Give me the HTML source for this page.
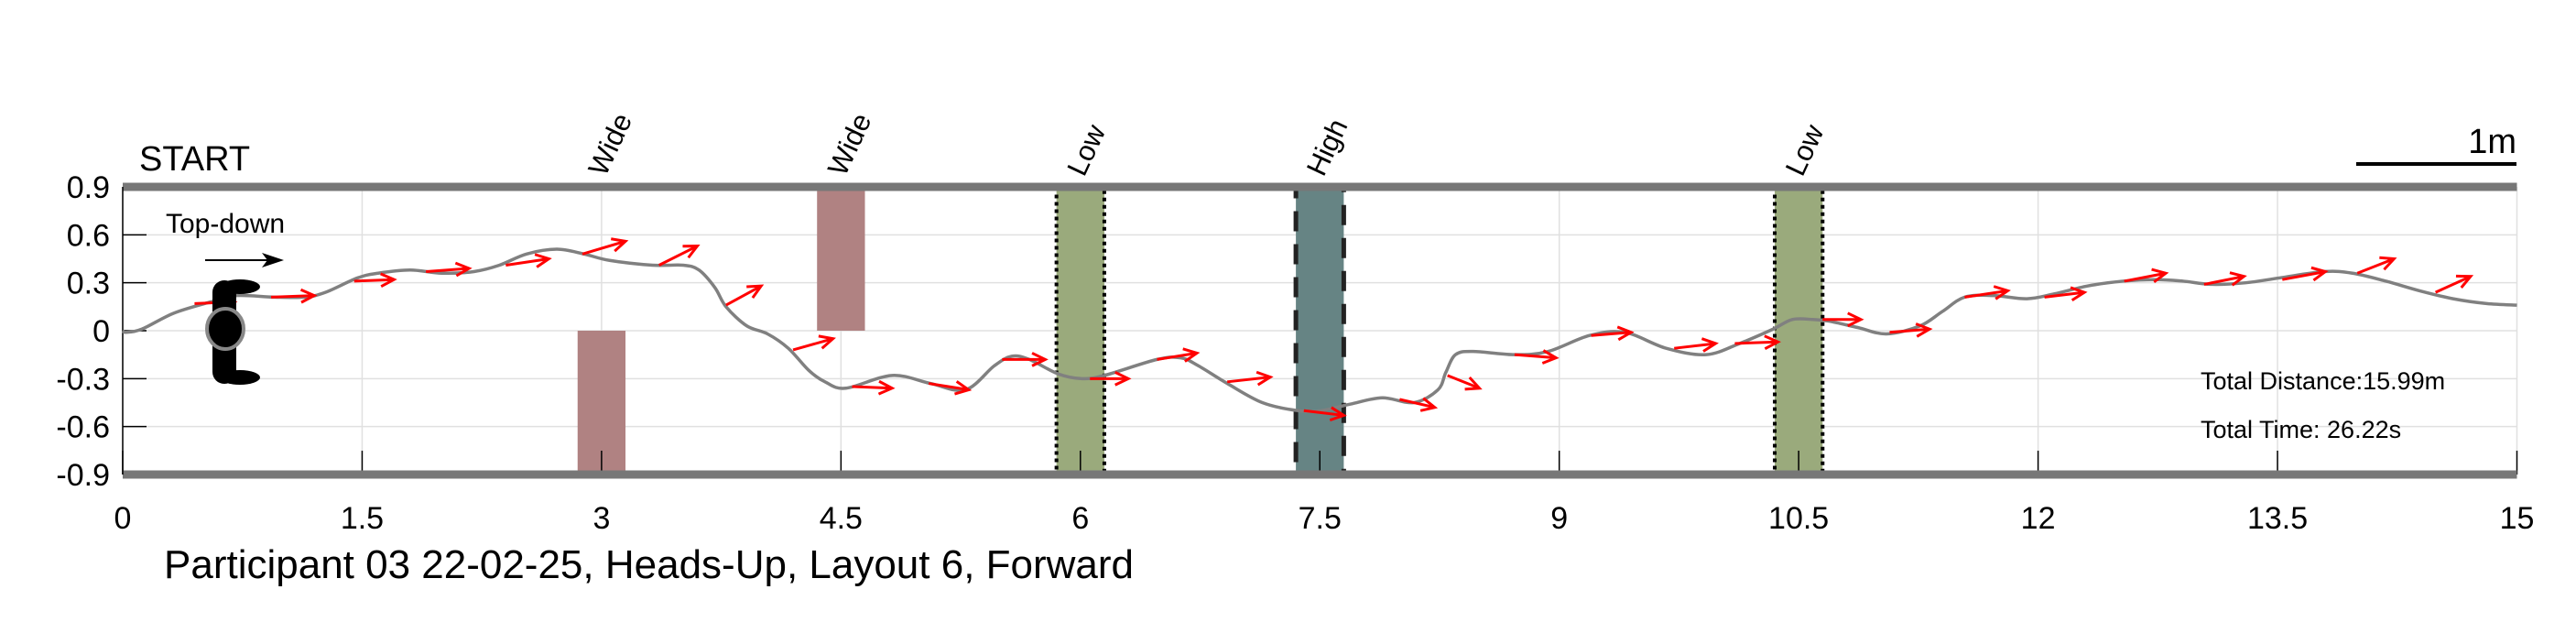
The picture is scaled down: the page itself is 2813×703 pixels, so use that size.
<!DOCTYPE html>
<html><head><meta charset="utf-8"><style>
html,body{margin:0;padding:0;background:#fff;}
svg{display:block;font-family:"Liberation Sans Narrow","Liberation Sans",sans-serif;}
</style></head><body>
<svg id="chart" width="2813" height="703" viewBox="0 0 2813 703" xmlns="http://www.w3.org/2000/svg">
<g id="grid"></g>
<g id="zones"></g>
<g id="frame"></g>
<g id="traj"></g>
<g id="arrows"></g>
<g id="labels"></g>
<text x="152" y="186" font-size="38" font-family="Liberation Sans, sans-serif">START</text>
<text x="181" y="254" font-size="30" font-family="Liberation Sans, sans-serif">Top-down</text>
<g>
<line x1="224" y1="284" x2="298" y2="284" stroke="#000" stroke-width="2"/>
<polygon points="310,284 286,276 292,284 286,292" fill="#000"/>
</g>
<g>
<rect x="232" y="306" width="26" height="113" rx="13" fill="#000"/>
<ellipse cx="262" cy="313" rx="22" ry="8" fill="#000"/>
<ellipse cx="262" cy="412" rx="22" ry="8" fill="#000"/>
<ellipse cx="246" cy="359" rx="20" ry="22" fill="#000" stroke="#888" stroke-width="4"/>
</g>
<g>
<line x1="2573" y1="179" x2="2748" y2="179" stroke="#000" stroke-width="4"/>
<text x="2748" y="167" font-size="38" text-anchor="end" font-family="Liberation Sans, sans-serif">1m</text>
</g>
<text x="2403" y="425" font-size="27" font-family="Liberation Sans, sans-serif">Total Distance:15.99m</text>
<text x="2403" y="478" font-size="27" font-family="Liberation Sans, sans-serif">Total Time: 26.22s</text>
<text x="179" y="631" font-size="44" font-family="Liberation Sans, sans-serif">Participant 03 22-02-25, Heads-Up, Layout 6, Forward</text>
</svg>
<script>
const xTicks=[0,1.5,3,4.5,6,7.5,9,10.5,12,13.5,15];
const xTickLabels=["0","1.5","3","4.5","6","7.5","9","10.5","12","13.5","15"];
const yTicks=[0.9,0.6,0.3,0,-0.3,-0.6,-0.9];
const yTickLabels=["0.9","0.6","0.3","0","-0.3","-0.6","-0.9"];
const pathX=[0,0.02,0.12,0.32,0.55,0.71,0.95,1.14,1.27,1.47,1.6,1.8,2.0,2.2,2.36,2.53,2.72,2.89,3.05,3.32,3.51,3.61,3.71,3.78,3.91,4.04,4.17,4.3,4.4,4.53,4.82,5.06,5.28,5.46,5.57,5.68,5.86,6.01,6.15,6.48,6.63,6.74,6.92,7.14,7.36,7.51,7.69,7.89,8.09,8.24,8.29,8.35,8.46,8.72,8.93,9.19,9.41,9.67,9.92,10.13,10.34,10.46,10.59,10.69,10.87,11.05,11.26,11.4,11.54,11.72,11.93,12.1,12.31,12.53,12.74,12.91,13.09,13.3,13.51,13.79,13.97,14.18,14.39,14.6,14.81,15];
const pathY=[0,-0.01,0.01,0.11,0.18,0.22,0.21,0.21,0.24,0.33,0.36,0.38,0.36,0.37,0.41,0.48,0.51,0.48,0.44,0.41,0.41,0.38,0.27,0.15,0.03,-0.02,-0.11,-0.25,-0.32,-0.36,-0.28,-0.33,-0.37,-0.22,-0.16,-0.18,-0.27,-0.3,-0.28,-0.18,-0.17,-0.22,-0.33,-0.45,-0.5,-0.5,-0.46,-0.42,-0.45,-0.37,-0.26,-0.15,-0.13,-0.15,-0.13,-0.03,-0.01,-0.11,-0.15,-0.08,0.01,0.07,0.07,0.06,0.02,-0.02,0.03,0.12,0.21,0.22,0.2,0.23,0.28,0.31,0.32,0.31,0.29,0.3,0.33,0.37,0.36,0.31,0.25,0.2,0.17,0.16];
const arrowX0=[0.45,0.93,1.45,1.9,2.4,2.88,3.36,3.78,4.2,4.57,5.05,5.51,6.06,6.48,6.92,7.4,8.0,8.3,8.72,9.2,9.72,10.1,10.65,11.07,11.54,12.04,12.54,13.04,13.53,14.0,14.49];
const arrowY0=[0.17,0.21,0.31,0.37,0.41,0.48,0.41,0.16,-0.12,-0.35,-0.33,-0.18,-0.3,-0.18,-0.32,-0.5,-0.43,-0.28,-0.15,-0.03,-0.11,-0.08,0.07,-0.01,0.21,0.21,0.31,0.29,0.32,0.36,0.24];
const arrowX1=[0.7,1.2,1.7,2.17,2.67,3.15,3.6,4.0,4.45,4.82,5.3,5.78,6.3,6.73,7.19,7.65,8.22,8.5,8.98,9.45,9.98,10.37,10.89,11.32,11.81,12.29,12.8,13.29,13.8,14.23,14.71];
const arrowY1=[0.18,0.22,0.32,0.39,0.45,0.56,0.53,0.28,-0.05,-0.36,-0.37,-0.18,-0.3,-0.14,-0.29,-0.53,-0.48,-0.36,-0.17,-0.01,-0.08,-0.07,0.07,0.01,0.25,0.24,0.36,0.34,0.37,0.45,0.34];
const zoneLabels=["Wide","Wide","Low","High","Low"];
const zoneX0=[2.85,4.35,5.85,7.35,10.35];
const zoneX1=[3.15,4.65,6.15,7.65,10.65];
const zoneY0=[-0.9,0,-0.9,-0.9,-0.9];
const zoneY1=[0,0.9,0.9,0.9,0.9];
const zoneKind=["wide","wide","low","high","low"];

const NS="http://www.w3.org/2000/svg";
const X0=134,XU=174.3,Y0=361,YU=174.4;
const sx=v=>X0+v*XU, sy=v=>Y0-v*YU;
function mk(tag,attrs,parent){const e=document.createElementNS(NS,tag);for(const k in attrs)e.setAttribute(k,attrs[k]);parent.appendChild(e);return e;}
const grid=document.getElementById('grid'),zones=document.getElementById('zones'),frame=document.getElementById('frame'),traj=document.getElementById('traj'),arrows=document.getElementById('arrows'),labels=document.getElementById('labels');
const L=sx(0),R=sx(15),T=sy(0.9),B=sy(-0.9);
xTicks.forEach((t,i)=>{
 const g=mk('line',{x1:sx(t),x2:sx(t),y1:T,y2:B,stroke:'#e0e0e0','stroke-width':1.5},grid);
 
 
 const tk=mk('line',{x1:sx(t),x2:sx(t),y1:B,y2:B-26,stroke:'#000','stroke-width':1.5},frame);
 
 
 const tx=mk('text',{x:sx(t),y:577,'font-size':34,'text-anchor':'middle'},labels);
 tx.textContent=xTickLabels[i];
 
 
});
yTicks.forEach((t,i)=>{
 const g=mk('line',{x1:L,x2:R,y1:sy(t),y2:sy(t),stroke:'#e0e0e0','stroke-width':1.5},grid);
 
 
 const tk=mk('line',{x1:L,x2:L+26,y1:sy(t),y2:sy(t),stroke:'#000','stroke-width':1.5},frame);
 
 
 const tx=mk('text',{x:120,y:sy(t)+12,'font-size':34,'text-anchor':'end'},labels);
 tx.textContent=yTickLabels[i];
 
 
});
const fills={wide:'#b08282',low:'#9aaa7c',high:'#668484'};
zoneLabels.forEach((lab,i)=>{
 const x=sx(zoneX0[i]),w=sx(zoneX1[i])-x,y=sy(zoneY1[i]),h=sy(zoneY0[i])-y;
 const r=mk('rect',{x:x,y:y,width:w,height:h,fill:fills[zoneKind[i]]},zones);
 
 
 if(zoneKind[i]!=='wide'){
  const b=mk('rect',{x:x,y:y,width:w,height:h,fill:'none',stroke:zoneKind[i]==='low'?'#000':'#222','stroke-width':zoneKind[i]==='low'?4:5,'stroke-dasharray':zoneKind[i]==='low'?'4,4':'22,14'},frame);
  
  
 }
 const cx=(sx(zoneX0[i])+sx(zoneX1[i]))/2;
 const t=mk('text',{x:cx+4,y:194,'font-size':31,'font-family':'Liberation Sans, sans-serif',transform:`rotate(-65 ${cx+4} 194)`},labels);
 t.textContent=lab;
 
 
});
[T,B].forEach(y=>{
 const l=mk('line',{x1:L,x2:R,y1:y,y2:y,stroke:'#777','stroke-width':9},frame);
 
 
});
const ax=mk('line',{x1:L,x2:L,y1:T,y2:B,stroke:'#000','stroke-width':1.5},frame);


// trajectory (Catmull-Rom)
const P=pathX.map((v,i)=>[sx(v),sy(pathY[i])]);
let d=`M${P[0][0]},${P[0][1]}`;
for(let i=0;i<P.length-1;i++){
 const p0=P[Math.max(0,i-1)],p1=P[i],p2=P[i+1],p3=P[Math.min(P.length-1,i+2)];
 d+=` C${p1[0]+(p2[0]-p0[0])/6},${p1[1]+(p2[1]-p0[1])/6} ${p2[0]-(p3[0]-p1[0])/6},${p2[1]-(p3[1]-p1[1])/6} ${p2[0]},${p2[1]}`;
}
const tp=mk('path',{d:d,fill:'none',stroke:'#808080','stroke-width':3.5},traj);


arrowX0.forEach((v,i)=>{
 const x0=sx(v),y0=sy(arrowY0[i]),x1=sx(arrowX1[i]),y1=sy(arrowY1[i]);
 const a=Math.atan2(y1-y0,x1-x0),hl=16,ha=0.45;
 const g=mk('g',{},arrows);
 
 
 mk('line',{x1:x0,y1:y0,x2:x1,y2:y1,stroke:'#f00','stroke-width':3},g);
 mk('polyline',{points:`${x1-hl*Math.cos(a-ha)},${y1-hl*Math.sin(a-ha)} ${x1},${y1} ${x1-hl*Math.cos(a+ha)},${y1-hl*Math.sin(a+ha)}`,fill:'none',stroke:'#f00','stroke-width':3},g);
});
</script>
</body></html>
